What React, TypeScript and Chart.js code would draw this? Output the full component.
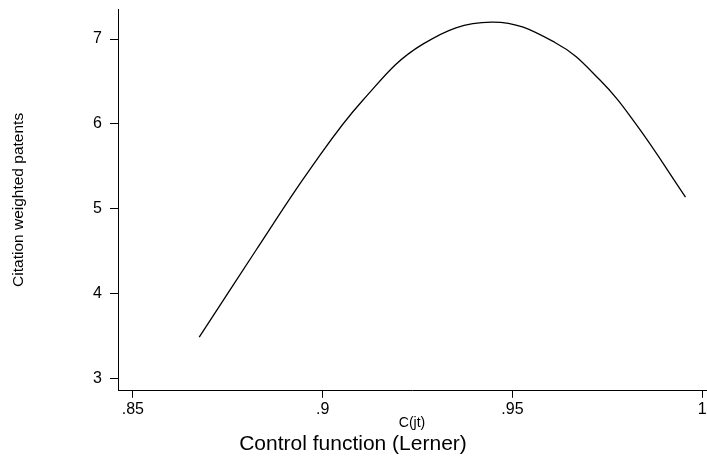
import React, { useEffect, useRef } from "react";
import { Chart, registerables } from "chart.js";

Chart.register(...registerables);

const xValues = [0.8675, 0.8824, 0.8969, 0.9106, 0.9264, 0.9445, 0.9612, 0.973, 0.9827, 0.9956];
const yValues = [3.49, 4.51, 5.48, 6.28, 6.94, 7.2, 6.96, 6.52, 5.99, 5.14];
const xTicks = [0.85, 0.9, 0.95, 1];
const xTickLabels = [".85", ".9", ".95", "1"];
const yTicks = [3, 4, 5, 6, 7];
const yTickLabels = ["3", "4", "5", "6", "7"];
const yTitle = "Citation weighted patents";
const xTitle = "C(jt)";
const bottomTitle = "Control function (Lerner)";

const FONT = "'Liberation Sans', Arial, Helvetica, sans-serif";

export default function App() {
  const ref = useRef<HTMLCanvasElement | null>(null);
  useEffect(() => {
    if (!ref.current) return;
    const chart = new Chart(ref.current, {
      type: "scatter",
      data: {
        datasets: [
          {
            data: xValues.map((x, i) => ({ x, y: yValues[i] })),
            showLine: true,
            borderColor: "#000",
            borderWidth: 1.3,
            pointRadius: 0,
            tension: 0.4,
            fill: false,
          },
        ],
      },
      options: {
        responsive: false,
        animation: false,
        events: [],
        layout: { padding: { top: 9, right: 1, left: 0, bottom: 0 } },
        plugins: {
          legend: { display: false },
          tooltip: { enabled: false },
          title: {
            display: true,
            position: "bottom",
            text: bottomTitle,
            color: "#000",
            font: { family: FONT, size: 21, weight: "normal" },
            padding: { top: 0, bottom: 2 },
          },
        },
        scales: {
          x: {
            type: "linear",
            min: 0.8461,
            max: 1.001,
            afterBuildTicks: (s: any) => {
              s.ticks = xTicks.map((v) => ({ value: v }));
            },
            afterFit: (s: any) => {
              s.height = 41;
              s.paddingLeft = 0;
              s.paddingRight = 0;
            },
            ticks: {
              color: "#000",
              font: { family: FONT, size: 16 },
              padding: 2,
              maxRotation: 0,
              autoSkip: false,
              callback: (v: any) => {
                const i = xTicks.indexOf(Number(v));
                return i >= 0 ? xTickLabels[i] : "";
              },
            },
            grid: { drawOnChartArea: false, drawTicks: true, tickLength: 7, color: "#000", lineWidth: 1 },
            border: { display: true, color: "#000", width: 1 },
            title: {
              display: true,
              text: xTitle,
              color: "#000",
              font: { family: FONT, size: 14 },
              padding: { top: 0, bottom: 0 },
            },
          },
          y: {
            type: "linear",
            min: 2.858,
            max: 7.354,
            afterBuildTicks: (s: any) => {
              s.ticks = yTicks.map((v) => ({ value: v }));
            },
            afterFit: (s: any) => {
              s.width = 118;
              s.paddingTop = 0;
              s.paddingBottom = 0;
            },
            ticks: {
              color: "#000",
              font: { family: FONT, size: 16 },
              padding: 8,
              autoSkip: false,
              callback: (v: any) => {
                const i = yTicks.indexOf(Number(v));
                return i >= 0 ? yTickLabels[i] : "";
              },
            },
            grid: { drawOnChartArea: false, drawTicks: true, tickLength: 8, color: "#000", lineWidth: 1 },
            border: { display: true, color: "#000", width: 1 },
            title: {
              display: true,
              text: yTitle,
              color: "#000",
              font: { family: FONT, size: 15.5 },
              padding: { top: 9, bottom: 0 },
            },
          },
        },
      },
    } as any);
    return () => chart.destroy();
  }, []);
  return (
    <div style={{ position: "absolute", left: 0, top: 0, width: 707, height: 459, background: "#fff" }}>
      <canvas ref={ref} width={707} height={459} style={{ width: 707, height: 459, display: "block" }} />
    </div>
  );
}
